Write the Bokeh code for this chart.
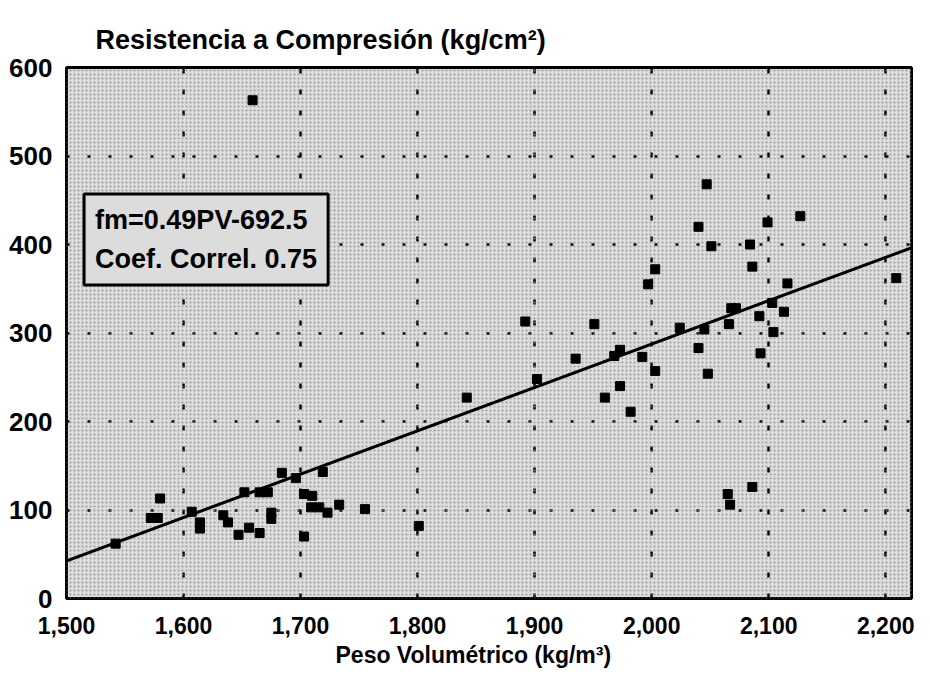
from bokeh.plotting import figure
from bokeh.models import Range1d, FixedTicker, NumeralTickFormatter, Slope, Label, Title, BoxAnnotation
from bokeh.embed import file_html
from bokeh.resources import INLINE

# ---- data ----
peso = [1542, 1580, 1572, 1578, 1607, 1614, 1614, 1634, 1638, 1647,
        1652, 1656, 1665, 1665, 1672, 1675, 1675, 1684, 1696, 1703,
        1703, 1710, 1709, 1716, 1719, 1723, 1733, 1755, 1801, 1659,
        1842, 1892, 1902, 1935, 1951, 1960, 1968, 1973, 1973, 1982,
        1992, 1997, 2003, 2003, 2024, 2040, 2040, 2045, 2047, 2048,
        2051, 2065, 2067, 2066, 2068, 2072, 2084, 2086, 2086, 2092,
        2093, 2099, 2103, 2104, 2113, 2116, 2127, 2209]
resistencia = [62, 113, 91, 91, 98, 86, 79, 94, 86, 72,
               120, 80, 74, 120, 120, 97, 90, 142, 136, 118,
               70, 116, 103, 103, 143, 97, 106, 101, 82, 563,
               227, 313, 248, 271, 310, 227, 274, 281, 240, 211,
               273, 355, 372, 257, 306, 420, 283, 304, 468, 254,
               398, 118, 106, 310, 328, 328, 400, 375, 126, 319,
               277, 425, 334, 301, 324, 356, 432, 362]

slope_coef = 0.49
intercept_coef = -692.5
correl = 0.75

x_ticks = [1500, 1600, 1700, 1800, 1900, 2000, 2100, 2200]
y_ticks = [0, 100, 200, 300, 400, 500, 600]

title_text = "Resistencia a Compresión (kg/cm²)"
xlabel_text = "Peso Volumétrico (kg/m³)"
eq_text = "fm=0.49PV-692.5\nCoef. Correl. 0.75"

FONT = "Liberation Sans"

p = figure(width=914, height=679, output_backend="svg", toolbar_location=None,
           x_range=Range1d(1500, 2222), y_range=Range1d(0, 600),
           min_border_left=66, min_border_right=3, min_border_top=67, min_border_bottom=81)

p.background_fill_color = "#dcdcdc"
p.border_fill_color = "white"
p.outline_line_color = "black"
p.outline_line_width = 3

# stipple texture
p.add_layout(BoxAnnotation(fill_alpha=0, line_color=None, hatch_pattern=".",
                           hatch_scale=4, hatch_color="#8c8c8c", hatch_alpha=0.8,
                           level="underlay"))

# title
p.title = Title(text=title_text, align="left", offset=29, standoff=25,
                text_font=FONT, text_font_size="27px", text_font_style="bold",
                text_color="black")

# axes
for ax in (p.xaxis[0], p.yaxis[0]):
    ax.axis_line_color = None
    ax.major_tick_line_color = None
    ax.minor_tick_line_color = None
    ax.major_label_text_font = FONT
    ax.major_label_text_font_style = "bold"
    ax.major_label_text_color = "black"

p.xaxis.ticker = FixedTicker(ticks=x_ticks)
p.xaxis.formatter = NumeralTickFormatter(format="0,0")
p.xaxis.major_label_text_font_size = "23px"
p.xaxis.major_label_standoff = 12
p.yaxis.ticker = FixedTicker(ticks=y_ticks)
p.yaxis.major_label_text_font_size = "26px"
p.yaxis.major_label_standoff = 8

p.add_layout(Title(text=xlabel_text, align="left", offset=269, standoff=6,
                   text_font=FONT, text_font_size="23px", text_font_style="bold",
                   text_color="black"), "below")

# grid
p.xgrid.grid_line_color = "black"
p.xgrid.grid_line_width = 2.5
p.xgrid.grid_line_dash = "5 16"
p.ygrid.grid_line_color = "black"
p.ygrid.grid_line_width = 2.5
p.ygrid.grid_line_dash = "3 18"

# regression line
p.add_layout(Slope(gradient=slope_coef, y_intercept=intercept_coef,
                   line_color="black", line_width=3))

# points
p.scatter(peso, resistencia, marker="square", size=9, color="black")

# equation box
p.add_layout(Label(x=1515, y=457, x_units="data", y_units="data", text=eq_text,
                   anchor="top_left", text_font=FONT, text_font_size="27px",
                   text_font_style="bold", text_color="black", text_line_height=1.3,
                   border_line_color="black", border_line_width=3,
                   background_fill_color="#dcdcdc", padding=11))

open("out.html", "w").write(file_html(p, INLINE))
